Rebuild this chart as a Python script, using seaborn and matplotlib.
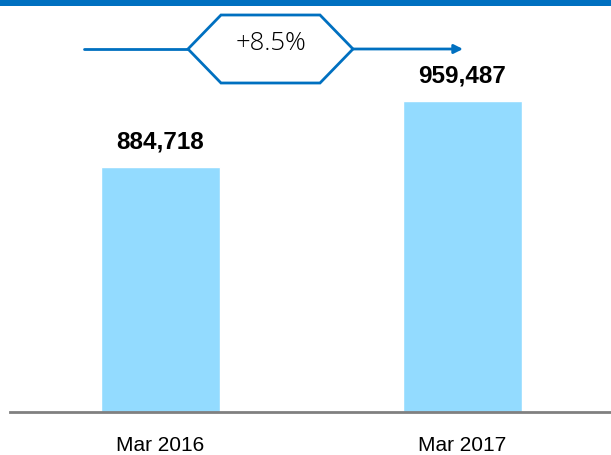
import numpy as np
import pandas as pd
import matplotlib
matplotlib.use('Agg')
import matplotlib.pyplot as plt
import matplotlib.patches as mpatches
import seaborn as sns

periods = ['Mar 2016', 'Mar 2017']
values = [884718, 959487]
growth_label = '+8.5%'

BLUE = '#0070C0'
BAR = '#93DBFF'

sns.set_style('white')
plt.rcParams['font.family'] = ['Liberation Sans', 'DejaVu Sans']

W, H = 611, 455
fig = plt.figure(figsize=(W / 100, H / 100), dpi=100)
ax = fig.add_axes([10 / W, 43 / H, 601 / W, 412 / H])

df = pd.DataFrame({'period': periods, 'value': values})
sns.barplot(data=df, x='period', y='value', color=BAR, width=0.394,
            saturation=1, ax=ax)

ax.set_xlim(-0.498, 1.492)
ax.set_ylim(607200, 1073800)

for c in ax.containers:
    ax.bar_label(c, labels=[f'{v:,.0f}' for v in values], padding=10,
                 fontsize=17.5, fontweight='bold', color='black')

ax.set_xlabel('')
ax.set_ylabel('')
ax.set_yticks([])
ax.tick_params(axis='x', length=0, pad=17, labelsize=15, labelcolor='black')
for s in ['top', 'right', 'left']:
    ax.spines[s].set_visible(False)
ax.spines['bottom'].set_color('#808080')
ax.spines['bottom'].set_linewidth(2)

# blue band at the top
fig.add_artist(mpatches.Rectangle((0, 1 - 6 / H), 1, 6 / H, transform=fig.transFigure,
                                  color=BLUE, lw=0))

# growth arrow with hexagon
def fx(px):
    return px / W

def fy(py):
    return 1 - py / H

fig.add_artist(plt.Line2D([fx(84), fx(188)], [fy(49), fy(49)], color=BLUE, lw=2,
                          transform=fig.transFigure))
fig.add_artist(mpatches.FancyArrowPatch((fx(353), fy(49)), (fx(463), fy(49)),
                                        transform=fig.transFigure, color=BLUE, lw=2,
                                        arrowstyle='-|>', mutation_scale=13,
                                        shrinkA=0, shrinkB=0))
hexagon = [(188, 49), (221, 15), (320, 15), (353, 49), (320, 83), (221, 83)]
fig.add_artist(mpatches.Polygon([(fx(x), fy(y)) for x, y in hexagon], closed=True,
                                fill=True, facecolor='white', edgecolor=BLUE, lw=2,
                                transform=fig.transFigure))
fig.text(fx(271), fy(43), growth_label, ha='center', va='center', fontsize=18.5,
         color='black', family=['Open Sans', 'DejaVu Sans'], fontweight='light')

fig.savefig('out.png', dpi=100)
